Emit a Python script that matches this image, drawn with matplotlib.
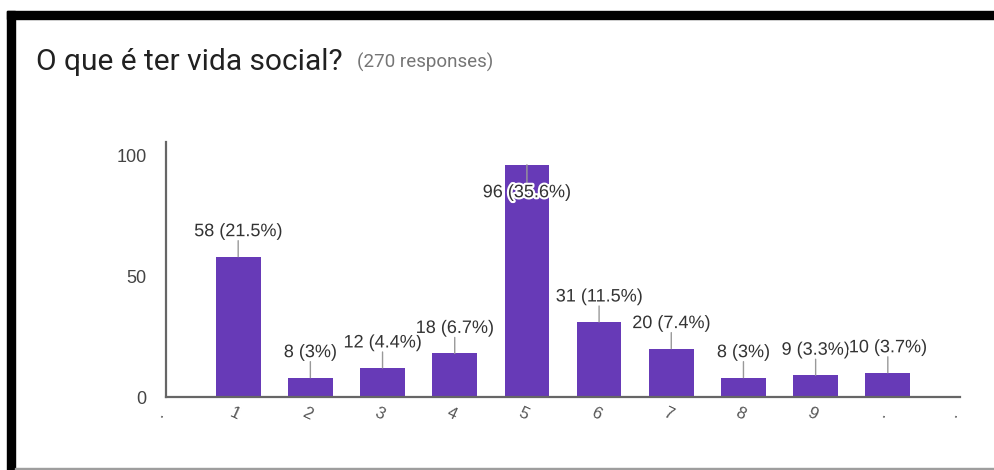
import matplotlib
matplotlib.use("Agg")
import matplotlib.pyplot as plt
import matplotlib.patheffects as pe
from matplotlib.patches import Rectangle

# dados
categorias = [".", "1", "2", "3", "4", "5", "6", "7", "8", "9", ".", "."]
posicoes = [1, 2, 3, 4, 5, 6, 7, 8, 9, 10]
respostas = [58, 8, 12, 18, 96, 31, 20, 8, 9, 10]
percentuais = ["21.5%", "3%", "4.4%", "6.7%", "35.6%", "11.5%", "7.4%", "3%", "3.3%", "3.7%"]
total = 270

W, H = 994, 470
fig = plt.figure(figsize=(W / 100, H / 100), dpi=100)
fig.patch.set_facecolor("white")

# moldura do screenshot
fig.patches.append(Rectangle((7 / W, 1 - 19 / H), 1 - 7 / W, 8 / H,
                             transform=fig.transFigure, color="black", zorder=0))
fig.patches.append(Rectangle((7 / W, 0), 8 / W, 1 - 11 / H,
                             transform=fig.transFigure, color="black", zorder=0))
fig.patches.append(Rectangle((15 / W, 0.5 / H), 1 - 15 / W, 2 / H,
                             transform=fig.transFigure, color="#9e9e9e", zorder=0))

fig.text(36 / W, 1 - 62 / H, "O que é ter vida social?", fontsize=21.5,
         family="Roboto", color="#212121", va="center")
fig.text(357 / W, 1 - 62 / H, f"({total} responses)", fontsize=13.5,
         family="Roboto", color="#757575", va="center")

ax = fig.add_axes([166 / W, 73 / H, (960 - 166) / W, (397 - 142) / H])
ax.bar(posicoes, respostas, width=0.62, color="#673AB7", zorder=2)
ax.set_xlim(0, 11)
ax.set_ylim(0, 105.4)

for s in ["top", "right"]:
    ax.spines[s].set_visible(False)
for s in ["left", "bottom"]:
    ax.spines[s].set_color("#666666")
    ax.spines[s].set_linewidth(1.6)

ax.set_yticks([0, 50, 100])
ax.tick_params(axis="y", length=0, pad=14, labelsize=13, labelcolor="#444444")
ax.set_xticks(range(len(categorias)))
ax.set_xticklabels(categorias, rotation=-25, ha="center", rotation_mode="anchor")
ax.tick_params(axis="x", length=0, pad=7, labelsize=12, labelcolor="#555555")
for t in ax.get_yticklabels() + ax.get_xticklabels():
    t.set_family("Liberation Sans")

px = 0.72  # pontos por pixel
topo = ax.get_ylim()[1]
for x, v, p in zip(posicoes, respostas, percentuais):
    dentro = v + 30 / 2.42 > topo
    linha = -18 if dentro else 16
    texto = -28 if dentro else 25
    ax.annotate("", xy=(x, v), xytext=(0, linha * px), textcoords="offset points",
                arrowprops=dict(arrowstyle="-", color="#999999", lw=1,
                                shrinkA=0, shrinkB=0), zorder=3)
    ax.annotate(f"{v} ({p})", xy=(x, v), xytext=(0, texto * px),
                textcoords="offset points", ha="center", va="center",
                fontsize=13, family="Liberation Sans", color="#333333", zorder=4,
                path_effects=[pe.withStroke(linewidth=3, foreground="white")])

fig.savefig("out.png", dpi=100)
